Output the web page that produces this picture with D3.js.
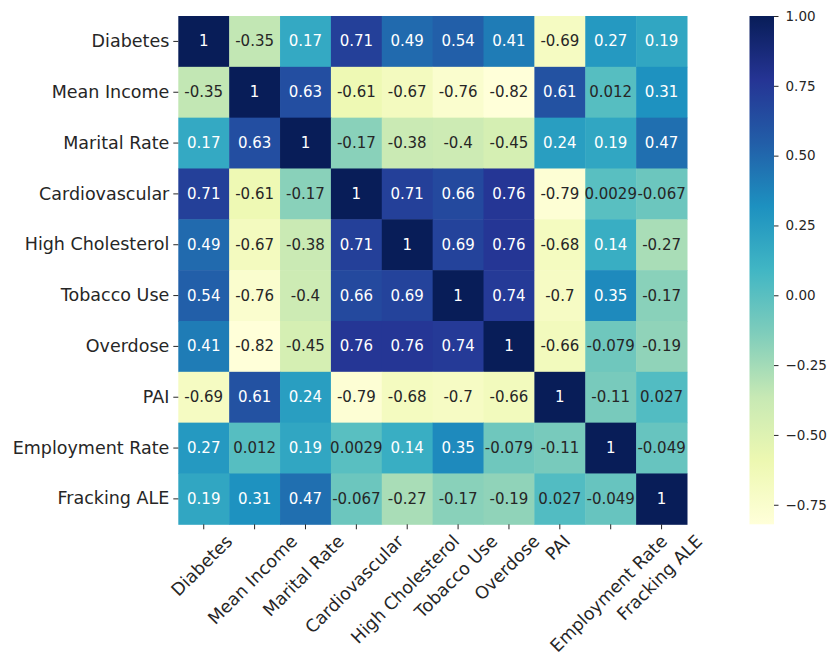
<!DOCTYPE html>
<html>
<head>
<meta charset="utf-8">
<script src="https://cdn.jsdelivr.net/npm/d3@7"></script>
<style>
  html, body { margin: 0; padding: 0; background: #fff; }
  svg { display: block; font-family: "DejaVu Sans", sans-serif; }
</style>
</head>
<body>
<svg id="chart" width="830" height="655"></svg>
<script>
// Correlation matrix of county-level health and socioeconomic indicators
const variables = [
  "Diabetes", "Mean Income", "Marital Rate", "Cardiovascular", "High Cholesterol",
  "Tobacco Use", "Overdose", "PAI", "Employment Rate", "Fracking ALE"
];

const rowDiabetes        = [1, -0.35, 0.17, 0.71, 0.49, 0.54, 0.41, -0.69, 0.27, 0.19];
const rowMeanIncome      = [-0.35, 1, 0.63, -0.61, -0.67, -0.76, -0.82, 0.61, 0.012, 0.31];
const rowMaritalRate     = [0.17, 0.63, 1, -0.17, -0.38, -0.4, -0.45, 0.24, 0.19, 0.47];
const rowCardiovascular  = [0.71, -0.61, -0.17, 1, 0.71, 0.66, 0.76, -0.79, 0.0029, -0.067];
const rowHighCholesterol = [0.49, -0.67, -0.38, 0.71, 1, 0.69, 0.76, -0.68, 0.14, -0.27];
const rowTobaccoUse      = [0.54, -0.76, -0.4, 0.66, 0.69, 1, 0.74, -0.7, 0.35, -0.17];
const rowOverdose        = [0.41, -0.82, -0.45, 0.76, 0.76, 0.74, 1, -0.66, -0.079, -0.19];
const rowPAI             = [-0.69, 0.61, 0.24, -0.79, -0.68, -0.7, -0.66, 1, -0.11, 0.027];
const rowEmployment      = [0.27, 0.012, 0.19, 0.0029, 0.14, 0.35, -0.079, -0.11, 1, -0.049];
const rowFracking        = [0.19, 0.31, 0.47, -0.067, -0.27, -0.17, -0.19, 0.027, -0.049, 1];

const matrix = [
  rowDiabetes, rowMeanIncome, rowMaritalRate, rowCardiovascular, rowHighCholesterol,
  rowTobaccoUse, rowOverdose, rowPAI, rowEmployment, rowFracking
];

const colorbarTicks = [-0.75, -0.5, -0.25, 0, 0.25, 0.5, 0.75, 1.0];

// YlGnBu color stops
const ylGnBu = ["#ffffd9", "#edf8b1", "#c7e9b4", "#7fcdbb", "#41b6c4",
                "#1d91c0", "#225ea8", "#253494", "#081d58"];

const svg = d3.select("#chart");

const heat = { left: 178.3, top: 16, right: 687, bottom: 524.3 };
const bar = { left: 749.5, right: 774, top: 16, bottom: 524.3 };
const textColor = "#262626";

const allValues = matrix.flat();
const vmin = d3.min(allValues), vmax = d3.max(allValues);

const color = d3.scaleLinear()
  .domain(ylGnBu.map((_, i) => vmin + (vmax - vmin) * i / (ylGnBu.length - 1)))
  .range(ylGnBu)
  .interpolate(d3.interpolateRgb)
  .clamp(true);

const x = d3.scaleBand().domain(variables).range([heat.left, heat.right]);
const y = d3.scaleBand().domain(variables).range([heat.top, heat.bottom]);

const cells = [];
matrix.forEach((row, i) => row.forEach((v, j) => cells.push({ r: variables[i], c: variables[j], v })));

// Cells
svg.append("g").selectAll("rect").data(cells).join("rect")
  .attr("x", d => x(d.c))
  .attr("y", d => y(d.r))
  .attr("width", x.bandwidth() + 0.5)
  .attr("height", y.bandwidth() + 0.5)
  .attr("fill", d => color(d.v));

// Annotation text: light on dark cells, dark on light cells
function luminance(c) {
  const rgb = d3.rgb(c);
  const lin = v => { v /= 255; return v <= 0.03928 ? v / 12.92 : Math.pow((v + 0.055) / 1.055, 2.4); };
  return 0.2126 * lin(rgb.r) + 0.7152 * lin(rgb.g) + 0.0722 * lin(rgb.b);
}
const fmt = d3.formatLocale({ decimal: ".", thousands: ",", grouping: [3], currency: ["$", ""], minus: "-" }).format(".2~g");

svg.append("g").selectAll("text").data(cells).join("text")
  .attr("x", d => x(d.c) + x.bandwidth() / 2)
  .attr("y", d => y(d.r) + y.bandwidth() / 2)
  .attr("text-anchor", "middle")
  .attr("dominant-baseline", "central")
  .attr("font-size", 15)
  .attr("fill", d => luminance(color(d.v)) > 0.408 ? textColor : "#ffffff")
  .text(d => fmt(d.v));

// Y axis
const yAxis = svg.append("g")
  .attr("transform", `translate(${heat.left},0)`)
  .call(d3.axisLeft(y).tickSize(5).tickPadding(4));
yAxis.select(".domain").remove();
yAxis.selectAll(".tick line").attr("stroke", textColor).attr("stroke-width", 1);
yAxis.selectAll(".tick text")
  .attr("font-size", 17.5)
  .attr("font-family", "DejaVu Sans")
  .attr("fill", textColor);

// X axis with labels rotated 45 degrees, centred under each tick
const xAxis = svg.append("g")
  .attr("transform", `translate(0,${heat.bottom})`)
  .call(d3.axisBottom(x).tickSize(5));
xAxis.select(".domain").remove();
xAxis.selectAll(".tick line").attr("stroke", textColor).attr("stroke-width", 1);
xAxis.selectAll(".tick text")
  .attr("font-size", 17.5)
  .attr("font-family", "DejaVu Sans")
  .attr("fill", textColor)
  .attr("text-anchor", "middle")
  .attr("dominant-baseline", "central")
  .attr("dy", null)
  .each(function () {
    const t = d3.select(this);
    const w = this.getComputedTextLength();
    const h = 12.4;
    const half = (w + h) * Math.SQRT1_2 / 2;
    const cy = 9.5 + half;
    t.attr("y", null).attr("transform", `translate(-2,${cy}) rotate(-45)`);
  });

// Colorbar
const defs = svg.append("defs");
const grad = defs.append("linearGradient")
  .attr("id", "cbar")
  .attr("x1", 0).attr("y1", 1).attr("x2", 0).attr("y2", 0);
ylGnBu.forEach((c, i) => {
  grad.append("stop").attr("offset", i / (ylGnBu.length - 1)).attr("stop-color", c);
});
svg.append("rect")
  .attr("x", bar.left).attr("y", bar.top)
  .attr("width", bar.right - bar.left).attr("height", bar.bottom - bar.top)
  .attr("fill", "url(#cbar)");

const cScale = d3.scaleLinear().domain([vmin, vmax]).range([bar.bottom, bar.top]);
const cAxis = svg.append("g")
  .attr("transform", `translate(${bar.right},0)`)
  .call(d3.axisRight(cScale).tickValues(colorbarTicks).tickSize(4.5).tickPadding(7)
    .tickFormat(d => d3.format(".2f")(d).replace("-", "\u2212")));
cAxis.select(".domain").remove();
cAxis.selectAll(".tick line").attr("stroke", textColor);
cAxis.selectAll(".tick text")
  .attr("font-size", 13.5)
  .attr("font-family", "DejaVu Sans")
  .attr("fill", textColor);
</script>
</body>
</html>
